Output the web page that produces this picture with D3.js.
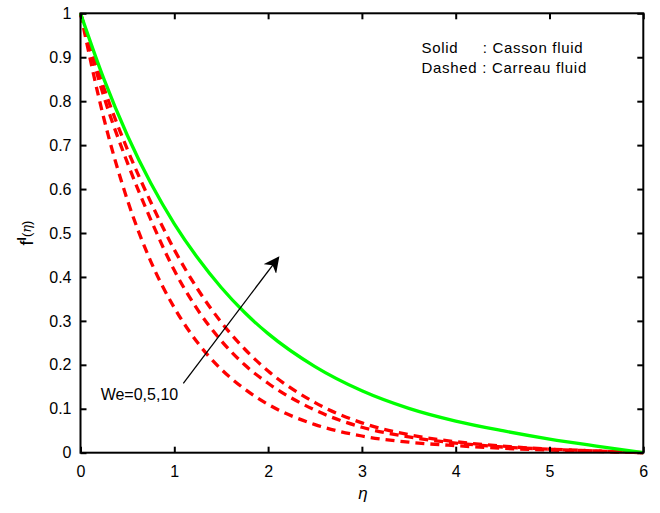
<!DOCTYPE html>
<html><head><meta charset="utf-8">
<script src="https://cdn.jsdelivr.net/npm/d3@7"></script>
<style>body{margin:0;background:#fff}svg{display:block}text{font-family:"Liberation Sans",Arial,sans-serif}</style>
</head><body><svg id="c" width="660" height="513"></svg>
<script>
const eta = [0,0.25,0.5,0.75,1,1.25,1.5,1.75,2,2.5,3,3.5,4,4.5,5,5.5,6];
const casson = [1,0.85,0.722,0.613,0.521,0.443,0.376,0.319,0.271,0.196,0.141,0.101,0.072,0.050,0.031,0.015,0];
const carreauWe0 = [1,0.76,0.575,0.435,0.33,0.25,0.19,0.145,0.11,0.064,0.038,0.024,0.016,0.010,0.006,0.003,0];
const carreauWe5 = [1,0.81,0.66,0.53,0.415,0.325,0.255,0.2,0.158,0.097,0.058,0.036,0.022,0.013,0.008,0.004,0];
const carreauWe10 = [1,0.83,0.69,0.57,0.462,0.372,0.297,0.236,0.186,0.114,0.068,0.041,0.025,0.015,0.008,0.004,0];
const xTicks = [0,1,2,3,4,5,6];
const yTicks = [0,0.1,0.2,0.3,0.4,0.5,0.6,0.7,0.8,0.9,1];
const legendLines = ["Solid     : Casson fluid","Dashed : Carreau fluid"];
const annot = "We=0,5,10";

const svg = d3.select("#c");
const m = {l:80.5, r:16.7, t:13.3, b:60.3};
const W = 660, H = 513;
const x = d3.scaleLinear().domain([0,6]).range([m.l, W-m.r]);
const y = d3.scaleLinear().domain([0,1]).range([H-m.b, m.t]);

const line = d3.line().x(d=>x(d[0])).y(d=>y(d[1])).curve(d3.curveMonotoneX);
const g = svg.append("g");
[carreauWe0, carreauWe5, carreauWe10].forEach(s=>{
  g.append("path").attr("d", line(eta.map((e,i)=>[e,s[i]])))
   .attr("fill","none").attr("stroke","#ff0000").attr("stroke-width",3.3).attr("stroke-dasharray","9,6");
});
g.append("path").attr("d", line(eta.map((e,i)=>[e,casson[i]])))
 .attr("fill","none").attr("stroke","#00ff00").attr("stroke-width",3.3);

// axes
const tl = 6;
const axB = d3.axisBottom(x).tickValues(xTicks).tickSize(-tl).tickPadding(13).tickFormat(d3.format("d"));
const axT = d3.axisTop(x).tickValues(xTicks).tickSize(-tl).tickFormat("");
const axL = d3.axisLeft(y).tickValues(yTicks).tickSize(-tl).tickPadding(9).tickFormat(d=>d===0||d===1?String(d):d3.format(".1f")(d));
const axR = d3.axisRight(y).tickValues(yTicks).tickSize(-tl).tickFormat("");
[[axB,`translate(0,${H-m.b})`],[axT,`translate(0,${m.t})`],[axL,`translate(${m.l},0)`],[axR,`translate(${W-m.r},0)`]].forEach(([a,t])=>{
  const s = svg.append("g").attr("transform",t).call(a);
  s.select(".domain").remove();
  s.selectAll(".tick line").attr("stroke","#000").attr("stroke-width",2);
  s.selectAll("text").attr("font-size",16).attr("fill","#000").attr("font-family","Liberation Sans, Arial, sans-serif");
});
svg.append("rect").attr("x",x(0)).attr("y",y(1)).attr("width",x(6)-x(0)).attr("height",y(0)-y(1))
  .attr("fill","none").attr("stroke","#000").attr("stroke-width",2);

// axis labels
svg.append("text").attr("x",(x(0)+x(6))/2 + 1).attr("y",499).attr("text-anchor","middle")
  .attr("font-family","DejaVu Serif, serif").attr("font-style","italic").attr("font-size",17).text("η");
const yl = svg.append("text").attr("transform",`translate(33,${(y(0)+y(1))/2}) rotate(-90)`).attr("text-anchor","middle").attr("font-size",18);
yl.append("tspan").text("f");
yl.append("tspan").attr("font-size",12).attr("dy",-7).attr("font-weight","bold").text("I");
yl.append("tspan").attr("font-size",13).attr("dy",5).text("(");
yl.append("tspan").attr("font-size",13).attr("font-style","italic").attr("font-family","DejaVu Serif, serif").text("η");
yl.append("tspan").attr("font-size",13).text(")");

// legend
legendLines.forEach((t,i)=>{
  svg.append("text").attr("x",x(3.635)).attr("y",y(0.909)+i*20).attr("font-size",15).attr("letter-spacing",0.7)
    .attr("xml:space","preserve").style("white-space","pre").text(t);
});

// annotation arrow
svg.append("defs").append("marker").attr("id","ah").attr("viewBox","0 0 10 10").attr("refX",9).attr("refY",5)
  .attr("markerWidth",16).attr("markerHeight",16).attr("markerUnits","userSpaceOnUse").attr("orient","auto")
  .append("path").attr("d","M0,0 L10,5 L0,10 L3,5 Z").attr("fill","#000");
svg.append("line").attr("x1",x(1.096)).attr("y1",y(0.158)).attr("x2",x(2.11)).attr("y2",y(0.444))
  .attr("stroke","#000").attr("stroke-width",1.3).attr("marker-end","url(#ah)");
svg.append("text").attr("x",x(0.215)).attr("y",y(0.12)).attr("font-size",16).text(annot);
</script></body></html>
